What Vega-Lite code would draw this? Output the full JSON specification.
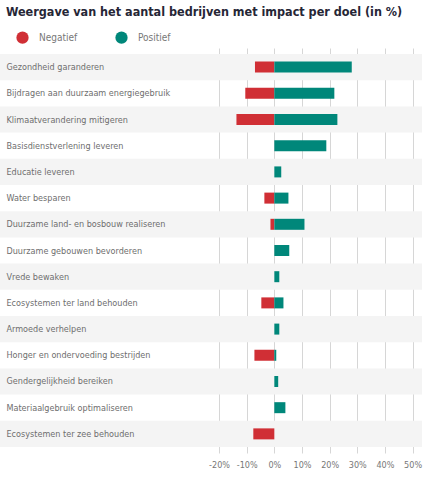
{
  "$schema": "https://vega.github.io/schema/vega-lite/v6.json",
  "width": 422,
  "height": 405,
  "autosize": {"type": "none"},
  "padding": {"left": 0, "top": 48, "right": 8, "bottom": 32},
  "background": "white",
  "title": {
    "text": "Weergave van het aantal bedrijven met impact per doel (in %)",
    "anchor": "start",
    "frame": "group",
    "font": "DejaVu Sans Condensed",
    "fontSize": 12.5,
    "fontWeight": "bold",
    "color": "#262636",
    "offset": 13,
    "dx": 6
  },
  "datasets": {
    "goals": [
      {"goal": "Gezondheid garanderen"},
      {"goal": "Bijdragen aan duurzaam energiegebruik"},
      {"goal": "Klimaatverandering mitigeren"},
      {"goal": "Basisdienstverlening leveren"},
      {"goal": "Educatie leveren"},
      {"goal": "Water besparen"},
      {"goal": "Duurzame land- en bosbouw realiseren"},
      {"goal": "Duurzame gebouwen bevorderen"},
      {"goal": "Vrede bewaken"},
      {"goal": "Ecosystemen ter land behouden"},
      {"goal": "Armoede verhelpen"},
      {"goal": "Honger en ondervoeding bestrijden"},
      {"goal": "Gendergelijkheid bereiken"},
      {"goal": "Materiaalgebruik optimaliseren"},
      {"goal": "Ecosystemen ter zee behouden"}
    ],
    "bars": [
      {"goal": "Gezondheid garanderen", "type": "Negatief", "value": -7.0},
      {"goal": "Gezondheid garanderen", "type": "Positief", "value": 28.0},
      {"goal": "Bijdragen aan duurzaam energiegebruik", "type": "Negatief", "value": -10.5},
      {"goal": "Bijdragen aan duurzaam energiegebruik", "type": "Positief", "value": 21.7},
      {"goal": "Klimaatverandering mitigeren", "type": "Negatief", "value": -13.7},
      {"goal": "Klimaatverandering mitigeren", "type": "Positief", "value": 22.8},
      {"goal": "Basisdienstverlening leveren", "type": "Positief", "value": 18.8},
      {"goal": "Educatie leveren", "type": "Positief", "value": 2.5},
      {"goal": "Water besparen", "type": "Negatief", "value": -3.6},
      {"goal": "Water besparen", "type": "Positief", "value": 5.1},
      {"goal": "Duurzame land- en bosbouw realiseren", "type": "Negatief", "value": -1.4},
      {"goal": "Duurzame land- en bosbouw realiseren", "type": "Positief", "value": 10.9},
      {"goal": "Duurzame gebouwen bevorderen", "type": "Positief", "value": 5.4},
      {"goal": "Vrede bewaken", "type": "Positief", "value": 1.8},
      {"goal": "Ecosystemen ter land behouden", "type": "Negatief", "value": -4.7},
      {"goal": "Ecosystemen ter land behouden", "type": "Positief", "value": 3.3},
      {"goal": "Armoede verhelpen", "type": "Positief", "value": 1.8},
      {"goal": "Honger en ondervoeding bestrijden", "type": "Negatief", "value": -7.2},
      {"goal": "Honger en ondervoeding bestrijden", "type": "Positief", "value": 0.7},
      {"goal": "Gendergelijkheid bereiken", "type": "Positief", "value": 1.4},
      {"goal": "Materiaalgebruik optimaliseren", "type": "Positief", "value": 4.0},
      {"goal": "Ecosystemen ter zee behouden", "type": "Negatief", "value": -7.6}
    ]
  },
  "encoding": {
    "y": {
      "field": "goal",
      "type": "nominal",
      "scale": {
        "domain": [
          "Gezondheid garanderen",
          "Bijdragen aan duurzaam energiegebruik",
          "Klimaatverandering mitigeren",
          "Basisdienstverlening leveren",
          "Educatie leveren",
          "Water besparen",
          "Duurzame land- en bosbouw realiseren",
          "Duurzame gebouwen bevorderen",
          "Vrede bewaken",
          "Ecosystemen ter land behouden",
          "Armoede verhelpen",
          "Honger en ondervoeding bestrijden",
          "Gendergelijkheid bereiken",
          "Materiaalgebruik optimaliseren",
          "Ecosystemen ter zee behouden"
        ],
        "paddingInner": 0,
        "paddingOuter": 0.23
      },
      "axis": {
        "title": null,
        "orient": "left",
        "domain": false,
        "ticks": false,
        "tickSize": 0,
        "grid": false,
        "labelAlign": "left",
        "labelPadding": -6,
        "labelFont": "DejaVu Sans Condensed",
        "labelFontSize": 9,
        "labelColor": "#6e6e6e",
        "labelLimit": 300,
        "zindex": 2
      }
    }
  },
  "layer": [
    {
      "data": {"name": "goals"},
      "transform": [
        {"window": [{"op": "row_number", "as": "idx"}]},
        {"filter": "datum.idx % 2 == 1"}
      ],
      "mark": {"type": "rect", "color": "#f4f4f4"},
      "encoding": {
        "x": {"datum": -99.2, "type": "quantitative"},
        "x2": {"datum": 53.4}
      }
    },
    {
      "data": {"name": "bars"},
      "mark": {"type": "bar", "size": 11},
      "encoding": {
        "x": {
          "field": "value",
          "type": "quantitative",
          "stack": null,
          "scale": {"domain": [-99.2, 53.4], "nice": false, "zero": false},
          "axis": {
            "title": null,
            "values": [-20, -10, 0, 10, 20, 30, 40, 50],
            "labelExpr": "datum.value + '%'",
            "grid": true,
            "gridColor": "#d6d6d6",
            "gridWidth": 1,
            "domain": false,
            "ticks": false,
            "labelPadding": 7,
            "labelFont": "DejaVu Sans Condensed",
            "labelFontSize": 9,
            "labelColor": "#777777",
            "zindex": 0
          }
        },
        "color": {
          "field": "type",
          "type": "nominal",
          "scale": {"domain": ["Negatief", "Positief"], "range": ["#d02f35", "#00877a"]},
          "legend": {
            "title": null,
            "orient": "none",
            "direction": "horizontal",
            "legendX": 16,
            "legendY": -17,
            "padding": 0,
            "symbolType": "circle",
            "symbolSize": 150,
            "symbolStrokeWidth": 0,
            "symbolOpacity": 1,
            "labelOffset": 10,
            "columnPadding": 37,
            "labelFont": "DejaVu Sans Condensed",
            "labelFontSize": 10,
            "labelColor": "#777777"
          }
        }
      }
    }
  ],
  "config": {"view": {"stroke": null}}
}
